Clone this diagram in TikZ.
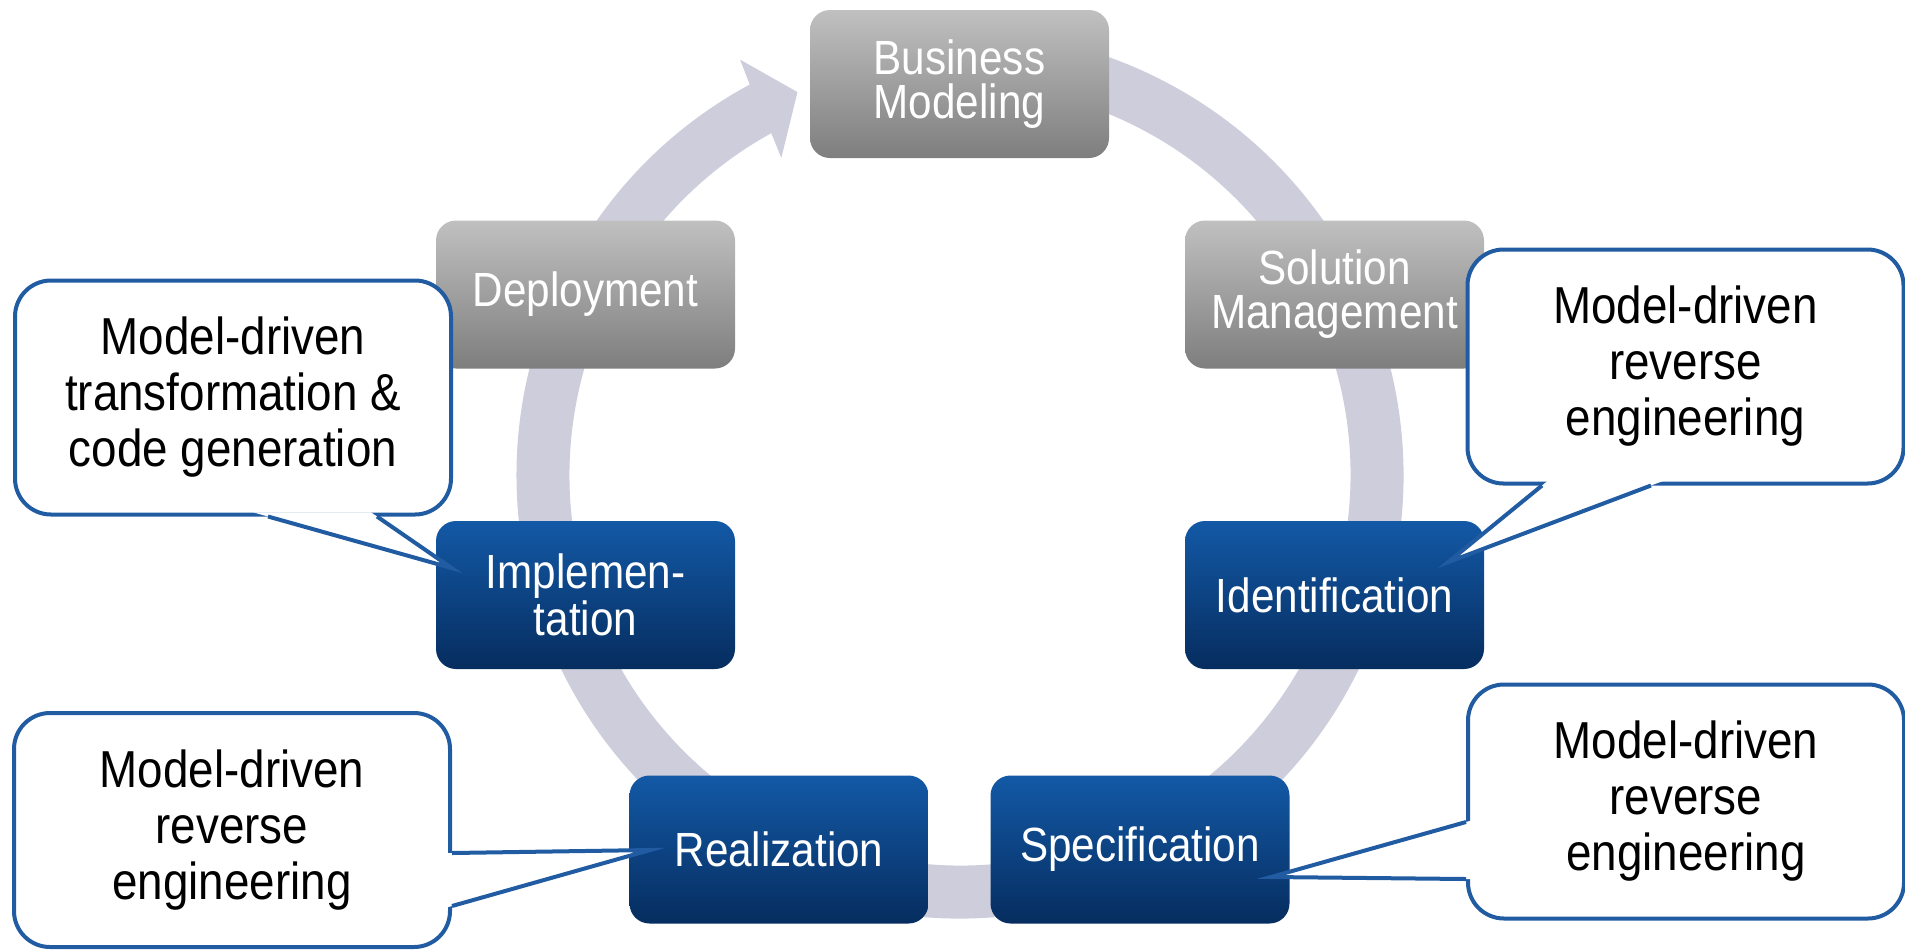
\documentclass[tikz,border=0pt]{standalone}
\usepackage{fontspec}
\setmainfont{Liberation Sans}
\newfontfamily\narrowfont[FakeStretch=0.88]{Liberation Sans}
\usepackage{tikz}
\usetikzlibrary{calc}

\definecolor{ringgray}{RGB}{205,205,219}
\definecolor{graytop}{RGB}{192,192,192}
\definecolor{graybot}{RGB}{126,126,126}
\definecolor{bluetop}{RGB}{19,89,166}
\definecolor{bluebot}{RGB}{6,45,95}
\definecolor{noteblue}{RGB}{33,92,162}

\newcommand{\phasefont}{\narrowfont\fontsize{24pt}{22pt}\selectfont}
\newcommand{\notefont}{\narrowfont\fontsize{26pt}{28pt}\selectfont}

\tikzset{
  phase/.style={rounded corners=10pt, minimum width=149.5pt, minimum height=74pt,
    inner sep=0pt, align=center, text=white, font=\phasefont},
  grayphase/.style={phase, top color=graytop, bottom color=graybot},
  bluephase/.style={phase, top color=bluetop, bottom color=bluebot},
  note/.style={draw=noteblue, line width=2pt, fill=white, rounded corners=18pt,
    minimum width=218pt, minimum height=117pt, inner sep=0pt, align=center, font=\notefont},
  tail/.style={draw=noteblue, line width=2pt, line join=miter}
}

\begin{document}
\begin{tikzpicture}[x=0.5pt,y=0.5pt,yscale=-1,xscale=1]
\useasboundingbox (0,0) rectangle (1905,949);

%Shape: Ring arrow
\coordinate (ctr) at (960,475);
\fill[ringgray] ($(ctr)+(-100:443.5)$) arc[start angle=-100, end angle=241.7, radius=443.5]
  -- ($(ctr)+(242.1:470)$) -- ($(ctr)+(247:416)$) -- ($(ctr)+(240.6:364)$)
  -- ($(ctr)+(241.1:390.5)$) arc[start angle=241.1, end angle=-100, radius=390.5] -- cycle;

% Phase nodes
\node[grayphase] (bm) at (959.5,84) {Business\\Modeling};
\node[grayphase] (sol) at (1334.5,294.5) {Solution\\Management};
\node[bluephase] (ident) at (1334.5,595) {Identification};
\node[bluephase] (spec) at (1140,849.5) {Specification};
\node[bluephase] (real) at (779,849.5) {Realization};
\node[bluephase] (impl) at (585.5,595) {Implemen-\\tation};
\node[grayphase] (depl) at (585.5,294.5) {Deployment};

% Callout: left top
\node[note] (lt) at (233,397.5) {Model-driven\\transformation \&\\code generation};
\coordinate (ltA) at ($(lt.south)+(35,0)$);
\coordinate (ltB) at ($(lt.south)+(144,0)$);
\coordinate (ltT) at ($(impl.west)+(16,-27)$);
\fill[white] (ltT) -- ($(ltT)!1.08!(ltA)$) -- ($(ltT)!1.08!(ltB)$) -- cycle;
\draw[tail] (ltA) -- (ltT) -- (ltB);

% Callout: right top
\node[note] (rt) at (1685.5,366.5) {Model-driven\\reverse\\engineering};
\coordinate (rtA) at ($(rt.south)+(-143.5,0)$);
\coordinate (rtB) at ($(rt.south)+(-34.5,0)$);
\coordinate (rtT) at ($(ident.east)+(-36,-33)$);
\fill[white] (rtT) -- ($(rtT)!1.08!(rtA)$) -- ($(rtT)!1.08!(rtB)$) -- cycle;
\draw[tail] (rtA) -- (rtT) -- (rtB);

% Callout: left bottom
\node[note] (lb) at (232,830) {Model-driven\\reverse\\engineering};
\coordinate (lbA) at ($(lb.east)+(0,23)$);
\coordinate (lbB) at ($(lb.east)+(0,76)$);
\coordinate (lbT) at ($(real.west)+(21,0.5)$);
\fill[white] (lbT) -- ($(lbT)!1.08!(lbA)$) -- ($(lbT)!1.08!(lbB)$) -- cycle;
\draw[tail] (lbA) -- (lbT) -- (lbB);

% Callout: right bottom
\node[note] (rb) at (1686,801.5) {Model-driven\\reverse\\engineering};
\coordinate (rbA) at ($(rb.west)+(0,20.5)$);
\coordinate (rbB) at ($(rb.west)+(0,77.5)$);
\coordinate (rbT) at ($(spec.east)+(-19,27.5)$);
\fill[white] (rbT) -- ($(rbT)!1.08!(rbA)$) -- ($(rbT)!1.08!(rbB)$) -- cycle;
\draw[tail] (rbA) -- (rbT) -- (rbB);

\end{tikzpicture}
\end{document}
